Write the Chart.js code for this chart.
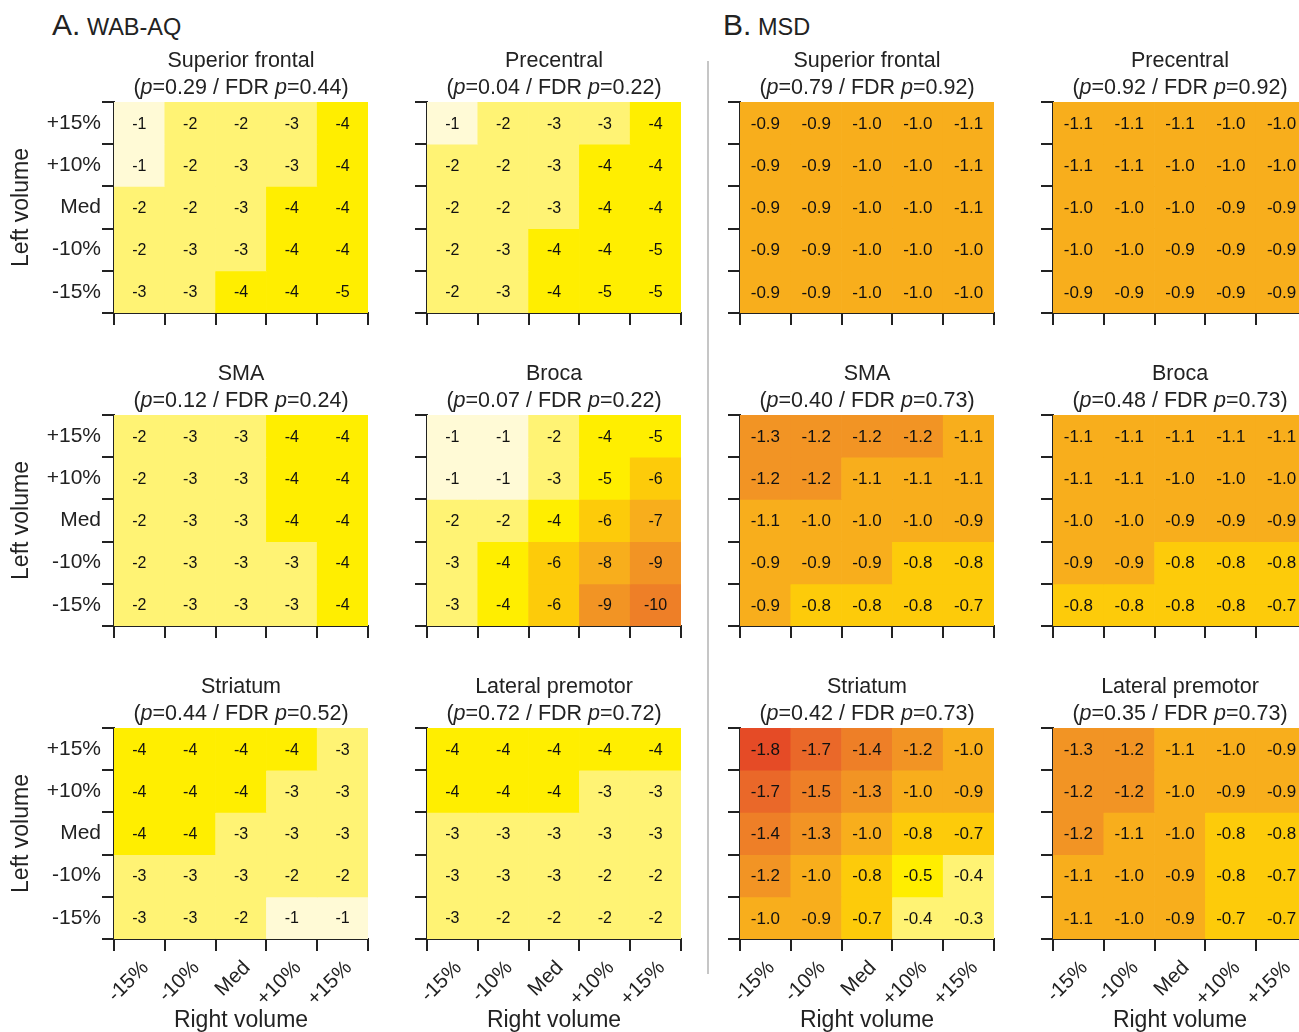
<!DOCTYPE html>
<html>
<head>
<meta charset="utf-8">
<title>Volume sensitivity heatmaps</title>
<script src="https://cdn.jsdelivr.net/npm/chart.js@4.4.1/dist/chart.umd.min.js"></script>
<style>
  html, body { margin: 0; padding: 0; background: #fff; overflow: hidden; }
  #fig { position: relative; width: 1299px; height: 1032px; overflow: hidden;
         font-family: "Liberation Sans", Arial, Helvetica, sans-serif; color: #222; }
  #fig canvas { position: absolute; }
  .head { position: absolute; top: 10px; line-height: 30px; white-space: nowrap; }
  .head .big { font-size: 30px; }
  .head .small { font-size: 23.5px; }
  #sep { position: absolute; left: 707px; top: 61px; width: 2px; height: 913px; background: #c6c6c6; }
</style>
</head>
<body>
<div id="fig">
  <div class="head" style="left:52px"><span class="big">A.</span><span class="small"> WAB-AQ</span></div>
  <div class="head" style="left:723px"><span class="big">B.</span><span class="small"> MSD</span></div>
  <div id="sep"></div>
</div>
<script>
// Axis categories (rows listed top to bottom, columns left to right)
const rightVolume = ['-15%', '-10%', 'Med', '+10%', '+15%'];
const leftVolume  = ['+15%', '+10%', 'Med', '-10%', '-15%'];

const regions = ['Superior frontal', 'Precentral', 'SMA', 'Broca', 'Striatum', 'Lateral premotor'];

// p-values per region
const wabP   = [0.29, 0.04, 0.12, 0.07, 0.44, 0.72];
const wabFdr = [0.44, 0.22, 0.24, 0.22, 0.52, 0.72];
const msdP   = [0.79, 0.92, 0.40, 0.48, 0.42, 0.35];
const msdFdr = [0.92, 0.92, 0.73, 0.73, 0.73, 0.73];

// A. WAB-AQ change per cell
const wabSuperiorFrontal = [
  [-1, -2, -2, -3, -4],
  [-1, -2, -3, -3, -4],
  [-2, -2, -3, -4, -4],
  [-2, -3, -3, -4, -4],
  [-3, -3, -4, -4, -5]];
const wabPrecentral = [
  [-1, -2, -3, -3, -4],
  [-2, -2, -3, -4, -4],
  [-2, -2, -3, -4, -4],
  [-2, -3, -4, -4, -5],
  [-2, -3, -4, -5, -5]];
const wabSMA = [
  [-2, -3, -3, -4, -4],
  [-2, -3, -3, -4, -4],
  [-2, -3, -3, -4, -4],
  [-2, -3, -3, -3, -4],
  [-2, -3, -3, -3, -4]];
const wabBroca = [
  [-1, -1, -2, -4, -5],
  [-1, -1, -3, -5, -6],
  [-2, -2, -4, -6, -7],
  [-3, -4, -6, -8, -9],
  [-3, -4, -6, -9, -10]];
const wabStriatum = [
  [-4, -4, -4, -4, -3],
  [-4, -4, -4, -3, -3],
  [-4, -4, -3, -3, -3],
  [-3, -3, -3, -2, -2],
  [-3, -3, -2, -1, -1]];
const wabLateralPremotor = [
  [-4, -4, -4, -4, -4],
  [-4, -4, -4, -3, -3],
  [-3, -3, -3, -3, -3],
  [-3, -3, -3, -2, -2],
  [-3, -2, -2, -2, -2]];

// B. MSD change per cell
const msdSuperiorFrontal = [
  [-0.9, -0.9, -1.0, -1.0, -1.1],
  [-0.9, -0.9, -1.0, -1.0, -1.1],
  [-0.9, -0.9, -1.0, -1.0, -1.1],
  [-0.9, -0.9, -1.0, -1.0, -1.0],
  [-0.9, -0.9, -1.0, -1.0, -1.0]];
const msdPrecentral = [
  [-1.1, -1.1, -1.1, -1.0, -1.0],
  [-1.1, -1.1, -1.0, -1.0, -1.0],
  [-1.0, -1.0, -1.0, -0.9, -0.9],
  [-1.0, -1.0, -0.9, -0.9, -0.9],
  [-0.9, -0.9, -0.9, -0.9, -0.9]];
const msdSMA = [
  [-1.3, -1.2, -1.2, -1.2, -1.1],
  [-1.2, -1.2, -1.1, -1.1, -1.1],
  [-1.1, -1.0, -1.0, -1.0, -0.9],
  [-0.9, -0.9, -0.9, -0.8, -0.8],
  [-0.9, -0.8, -0.8, -0.8, -0.7]];
const msdBroca = [
  [-1.1, -1.1, -1.1, -1.1, -1.1],
  [-1.1, -1.1, -1.0, -1.0, -1.0],
  [-1.0, -1.0, -0.9, -0.9, -0.9],
  [-0.9, -0.9, -0.8, -0.8, -0.8],
  [-0.8, -0.8, -0.8, -0.8, -0.7]];
const msdStriatum = [
  [-1.8, -1.7, -1.4, -1.2, -1.0],
  [-1.7, -1.5, -1.3, -1.0, -0.9],
  [-1.4, -1.3, -1.0, -0.8, -0.7],
  [-1.2, -1.0, -0.8, -0.5, -0.4],
  [-1.0, -0.9, -0.7, -0.4, -0.3]];
const msdLateralPremotor = [
  [-1.3, -1.2, -1.1, -1.0, -0.9],
  [-1.2, -1.2, -1.0, -0.9, -0.9],
  [-1.2, -1.1, -1.0, -0.8, -0.8],
  [-1.1, -1.0, -0.9, -0.8, -0.7],
  [-1.1, -1.0, -0.9, -0.7, -0.7]];

const wabGrids = [wabSuperiorFrontal, wabPrecentral, wabSMA, wabBroca, wabStriatum, wabLateralPremotor];
const msdGrids = [msdSuperiorFrontal, msdPrecentral, msdSMA, msdBroca, msdStriatum, msdLateralPremotor];

// ---- colour scale (cream -> yellow -> orange -> red) ----
const PALETTE = ['#FFFAD6', '#FFF374', '#FFEE00', '#FDCB0A', '#F8AE1C', '#F29424', '#EE7F27', '#EA6829', '#E54B26'];
function wabColour(v) {
  if (v > -1.5) return PALETTE[0];
  if (v > -3.5) return PALETTE[1];
  if (v > -5.5) return PALETTE[2];
  if (v > -6.5) return PALETTE[3];
  if (v > -8.5) return PALETTE[4];
  if (v > -9.5) return PALETTE[5];
  return PALETTE[6];
}
function msdColour(v) {
  if (v > -0.45) return PALETTE[1];
  if (v > -0.65) return PALETTE[2];
  if (v > -0.85) return PALETTE[3];
  if (v > -1.15) return PALETTE[4];
  if (v > -1.35) return PALETTE[5];
  if (v > -1.55) return PALETTE[6];
  if (v > -1.75) return PALETTE[7];
  return PALETTE[8];
}

const FONT = '"Liberation Sans", Arial, Helvetica, sans-serif';
const INK = '#222';

// Writes the value of every cell at its centre
const cellText = {
  id: 'cellText',
  afterDatasetsDraw(chart, args, o) {
    const ctx = chart.ctx;
    ctx.save();
    ctx.font = o.size + 'px ' + FONT;
    ctx.fillStyle = '#111';
    ctx.textAlign = 'center';
    ctx.textBaseline = 'middle';
    chart.data.datasets.forEach((ds, i) => {
      chart.getDatasetMeta(i).data.forEach((bar, j) => {
        const p = bar.getProps(['x', 'y', 'base'], true);
        ctx.fillText(ds.data[j].v.toFixed(o.digits), p.x, (p.y + p.base) / 2 + 1);
      });
    });
    ctx.restore();
  }
};

// Two-line panel heading: region name and p-values with italic "p"
const panelTitle = {
  id: 'panelTitle',
  afterDraw(chart, args, o) {
    const { ctx, chartArea } = chart;
    const cx = (chartArea.left + chartArea.right) / 2;
    const normal = '21.5px ' + FONT, italic = 'italic 21.5px ' + FONT;
    ctx.save();
    ctx.fillStyle = INK;
    ctx.textBaseline = 'alphabetic';
    ctx.textAlign = 'center';
    ctx.font = normal;
    ctx.fillText(o.name, cx, chartArea.top - 35);
    const parts = [
      ['(', normal], ['p', italic], ['=' + o.p.toFixed(2) + ' / FDR ', normal],
      ['p', italic], ['=' + o.fdr.toFixed(2) + ')', normal]];
    let total = 0;
    parts.forEach(([t, f]) => { ctx.font = f; total += ctx.measureText(t).width; });
    let x = cx - total / 2;
    ctx.textAlign = 'left';
    parts.forEach(([t, f]) => { ctx.font = f; ctx.fillText(t, x, chartArea.top - 8); x += ctx.measureText(t).width; });
    ctx.restore();
  }
};

// ---- layout ----
const CELL_W = 254, CELL_H = 211, PITCH = 313;
const AXIS_W = 114, TOP_PAD = 60, RIGHT_PAD = 10;
const AREA_LEFT = 114, AREA_TOP = 102;
const fig = document.getElementById('fig');

function buildPanel(col, row, grid, name, p, fdr, colour, digits, valueSize) {
  const showY = col === 0;
  const showX = row === 2;
  const bottomH = showX ? 98 : 14;
  const W = AXIS_W + CELL_W + RIGHT_PAD;
  const H = TOP_PAD + CELL_H + bottomH;
  const cv = document.createElement('canvas');
  cv.width = W; cv.height = H;
  cv.style.width = W + 'px'; cv.style.height = H + 'px';
  cv.style.left = (AREA_LEFT + PITCH * col - AXIS_W) + 'px';
  cv.style.top = (AREA_TOP + PITCH * row - TOP_PAD) + 'px';
  fig.appendChild(cv);

  const n = leftVolume.length;
  const datasets = leftVolume.map((lv, i) => ({
    label: lv,
    xAxisID: 'x',
    yAxisID: 'y',
    data: rightVolume.map((rv, j) => ({ x: rv, y: [n - 1 - i, n - i], v: grid[i][j] })),
    backgroundColor: ctx => colour(ctx.raw.v),
    borderWidth: 0,
    grouped: false,
    barPercentage: 1,
    categoryPercentage: 1
  }));

  const tickGrid = { display: true, drawOnChartArea: false, drawTicks: true, tickLength: 12,
                     color: INK, lineWidth: 2, offset: true };
  const border = { display: true, color: INK, width: 2 };

  new Chart(cv, {
    type: 'bar',
    data: { labels: rightVolume, datasets },
    options: {
      responsive: false,
      maintainAspectRatio: false,
      animation: false,
      events: [],
      layout: { padding: { top: TOP_PAD, right: RIGHT_PAD, left: 0, bottom: 0 } },
      plugins: {
        legend: { display: false },
        tooltip: { enabled: false },
        title: { display: false },
        cellText: { digits, size: valueSize },
        panelTitle: { name, p, fdr }
      },
      scales: {
        x: {
          type: 'category',
          position: 'bottom',
          offset: true,
          z: 1,
          grid: tickGrid,
          border,
          ticks: {
            display: showX, color: INK, autoSkip: false,
            minRotation: 45, maxRotation: 45, padding: 5, labelOffset: 6,
            font: { family: FONT, size: 20.5 }
          },
          title: {
            display: showX, text: 'Right volume', color: INK,
            font: { family: FONT, size: 23 }, padding: { top: 0, bottom: 3 }
          },
          afterFit(s) { s.height = bottomH; s.paddingLeft = 0; s.paddingRight = 0; }
        },
        y: {
          type: 'linear',
          display: false,
          min: 0,
          max: n
        },
        yl: {
          type: 'category',
          axis: 'y',
          position: 'left',
          labels: leftVolume,
          offset: true,
          z: 1,
          grid: tickGrid,
          border,
          ticks: { display: showY, color: INK, padding: 1, font: { family: FONT, size: 21 } },
          title: {
            display: showY, text: 'Left volume', color: INK,
            font: { family: FONT, size: 23 }, padding: { top: 8, bottom: 0 }
          },
          afterFit(s) { s.width = AXIS_W; s.paddingTop = 0; s.paddingBottom = 0; }
        }
      }
    },
    plugins: [cellText, panelTitle]
  });
}

regions.forEach((name, k) => {
  const col = k % 2, row = Math.floor(k / 2);
  buildPanel(col, row, wabGrids[k], name, wabP[k], wabFdr[k], wabColour, 0, 16);
  buildPanel(col + 2, row, msdGrids[k], name, msdP[k], msdFdr[k], msdColour, 1, 17);
});
</script>
</body>
</html>
